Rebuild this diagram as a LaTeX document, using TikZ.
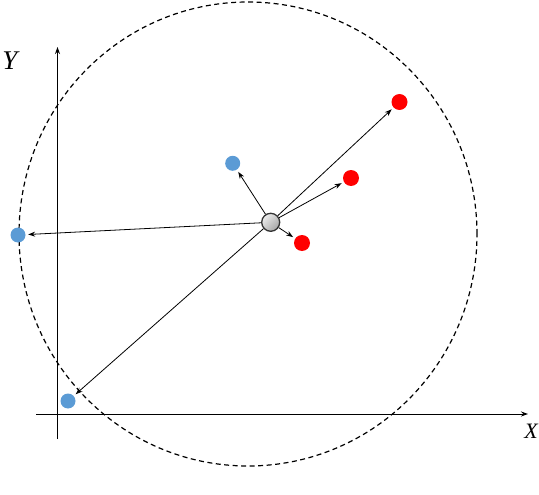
\documentclass[tikz,border=0pt]{standalone}
\usepackage{fontspec}
\setmainfont{Liberation Serif}
\usetikzlibrary{arrows.meta}
\definecolor{dotblue}{HTML}{5B9BD5}
\definecolor{dotred}{HTML}{FF0000}
\begin{document}
\begin{tikzpicture}[x=1pt,y=-1pt,
  bluedot/.style={circle,fill=dotblue,minimum size=15pt,inner sep=0pt},
  reddot/.style={circle,fill=dotred,minimum size=16pt,inner sep=0pt},
  centerdot/.style={circle,draw=black!80,line width=1.3pt,top color=gray!15,bottom color=gray!70,shading angle=45,minimum size=18pt,inner sep=0pt},
  arr/.style={-{Stealth[length=7pt,width=5pt]},line width=0.8pt,shorten >=2.5pt},
  axis/.style={-{Stealth[length=7pt,width=5pt]},line width=1pt},
  lbl/.style={inner sep=0pt}]
\useasboundingbox (0,0) rectangle (539,495);
\draw[dashed,line width=1.2pt,dash pattern=on 5pt off 3.5pt] (248,234) ellipse [x radius=229pt, y radius=232pt];
\coordinate (ybot) at (57.5,439);
\coordinate (ytop) at (57.5,47);
\coordinate (xl) at (36,414);
\coordinate (xr) at (528,414);
\draw[axis] (ybot) -- (ytop);
\draw[axis] (xl) -- (xr);
\node[lbl,font=\fontsize{27}{29}\selectfont\itshape] (ylab) at (10,61) {Y};
\node[lbl,font=\fontsize{22}{24}\selectfont\itshape] (xlab) at (531,431) {X};
\node[bluedot] (b1) at (232.7,163.3) {};
\node[bluedot] (b2) at (18,235) {};
\node[bluedot] (b3) at (68,401) {};
\node[reddot] (r1) at (399.5,102) {};
\node[reddot] (r2) at (351,178) {};
\node[reddot] (r3) at (302,243) {};
\node[centerdot] (c) at (270.7,222.3) {};
\foreach \t in {b1,b2,b3,r1,r2,r3} \draw[arr] (c) -- (\t);
\end{tikzpicture}
\end{document}
